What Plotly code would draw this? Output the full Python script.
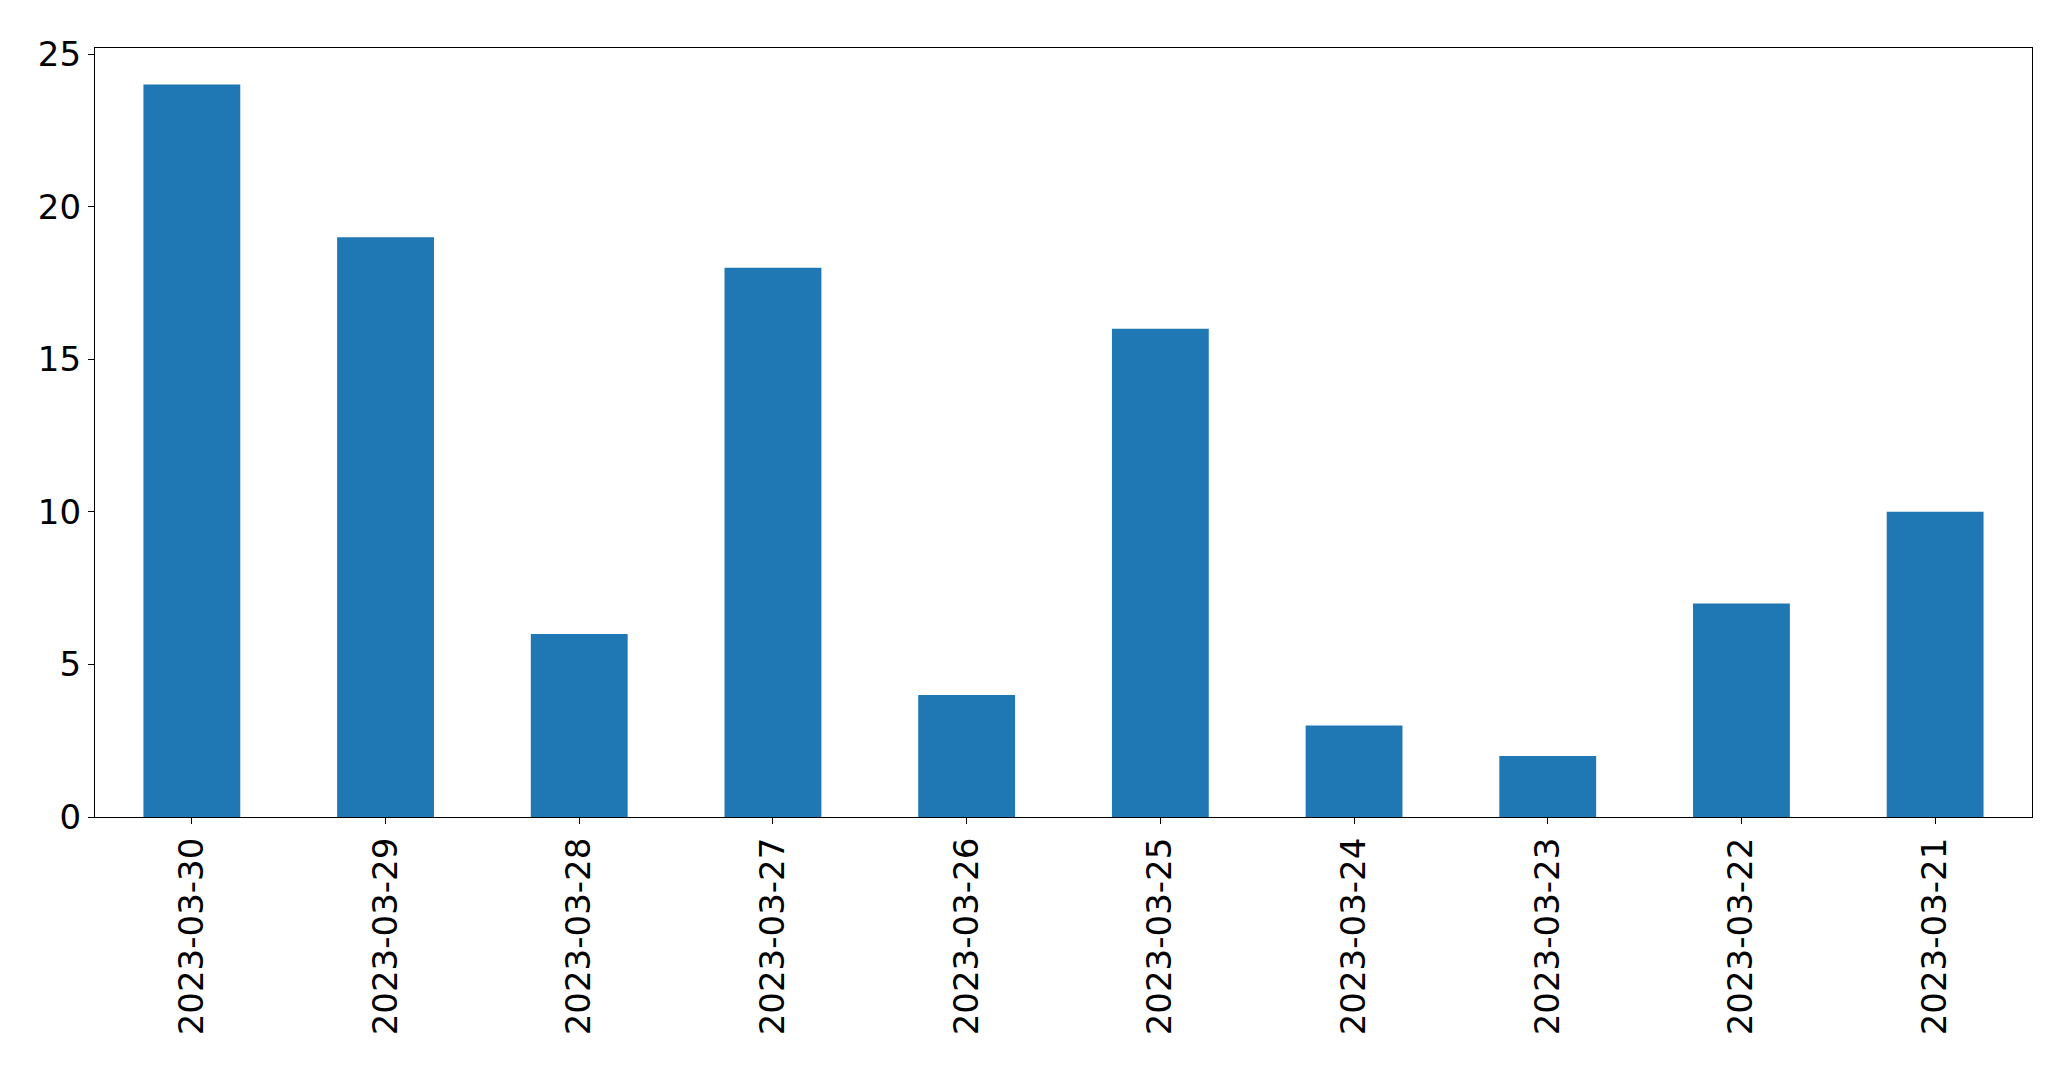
import plotly.graph_objects as go

dates = ["2023-03-30", "2023-03-29", "2023-03-28", "2023-03-27", "2023-03-26",
         "2023-03-25", "2023-03-24", "2023-03-23", "2023-03-22", "2023-03-21"]
counts = [24, 19, 6, 18, 4, 16, 3, 2, 7, 10]
y_ticks = [0, 5, 10, 15, 20, 25]

fig = go.Figure(go.Bar(x=dates, y=counts, marker=dict(color="#1f77b4", line=dict(width=0))))

font = dict(family="DejaVu Sans", size=34, color="black")
fig.update_layout(
    width=2063, height=1061,
    margin=dict(l=87, r=39, t=40, b=252, autoexpand=False),
    plot_bgcolor="white", paper_bgcolor="white",
    bargap=0.5, showlegend=False,
    font=font,
)
fig.update_xaxes(
    type="category", range=[-0.5, 9.5], tickangle=-90, automargin=False,
    showline=True, mirror=True, linecolor="black", linewidth=1.2,
    ticks="outside", ticklen=6, tickwidth=1.2, tickcolor="black",
    showgrid=False, zeroline=False, tickfont=font,
)
fig.update_yaxes(
    range=[0, 25.2], tickvals=y_ticks, automargin=False,
    showline=True, mirror=True, linecolor="black", linewidth=1.2,
    ticks="outside", ticklen=6, tickwidth=1.2, tickcolor="black",
    showgrid=False, zeroline=False, tickfont=font,
)
fig.write_html("out.html")
